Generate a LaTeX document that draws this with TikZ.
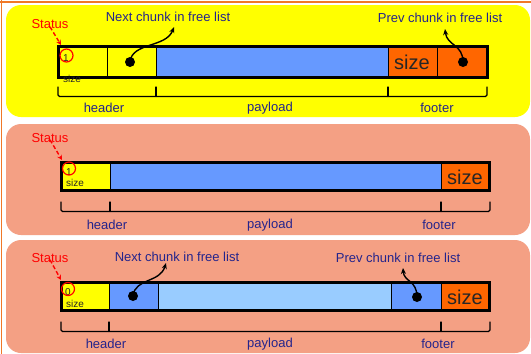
\documentclass[tikz,border=0pt]{standalone}
\usepackage{fontspec}
\setmainfont{Liberation Sans}
\usetikzlibrary{arrows.meta}
\definecolor{panelyellow}{RGB}{255,255,0}
\definecolor{salmon}{RGB}{244,160,132}
\definecolor{blockblue}{RGB}{102,153,255}
\definecolor{lightblue}{RGB}{153,204,255}
\definecolor{footorange}{RGB}{255,102,0}
\definecolor{navy}{RGB}{36,36,140}
\definecolor{frameorange}{RGB}{240,120,40}
\begin{document}
\begin{tikzpicture}[x=1pt,y=-1pt,
  panel/.style={rounded corners=15pt},
  cell/.style={draw=black, line width=0.9pt},
  bar/.style={draw=black, line width=3pt},
  lbl/.style={text=navy, font=\fontsize{13}{15}\selectfont, inner sep=0pt},
  status/.style={text=red, font=\fontsize{13}{15}\selectfont, inner sep=0pt},
  tiny/.style={text=black!85, font=\fontsize{10}{11}\selectfont, inner sep=0pt},
  bigsize/.style={text=black!85, font=\fontsize{20}{22}\selectfont, inner sep=0pt},
  dot/.style={circle, fill=black, minimum size=10pt, inner sep=0pt},
  ring/.style={circle, draw=red, line width=1.2pt, minimum size=13pt, inner sep=0pt},
  ptr/.style={line width=1.4pt, -{Stealth[length=6pt,width=5pt]}},
  statarrow/.style={red, line width=1.4pt, dashed, dash pattern=on 4pt off 2.5pt, -{Stealth[length=5pt,width=5pt]}},
  bracket/.style={line width=1.2pt, line cap=round, rounded corners=1.5pt}
]
\useasboundingbox (0,0) rectangle (531,354);
\fill[white] (0,0) rectangle (531,354);
% outer frame lines
\draw[frameorange, line width=1.5pt] (0,2) -- (531,2);
\draw[frameorange, line width=1.5pt] (1.5,0) -- (1.5,354);

% ---------- panels ----------
\fill[panelyellow, panel] (6,5) rectangle (530,117);
\fill[salmon, panel] (6,124) rectangle (530,235);
\fill[salmon, panel] (6,240) rectangle (530,353);

% ================= block 1: allocated with links =================
\fill[panelyellow] (58.5,46.5) rectangle (156,77);
\fill[blockblue] (156,46.5) rectangle (388,77);
\fill[footorange] (388,46.5) rectangle (487,77);
\draw[cell] (107,46.5) -- (107,77);
\draw[cell] (156,46.5) -- (156,77);
\draw[cell] (388,46.5) -- (388,77);
\draw[cell] (437,46.5) -- (437,77);
\draw[bar] (58.5,46.5) rectangle (487,77);
\node[bigsize] (sz1) at (412,62) {size};
\node[tiny] (b1) at (66,58) {1};
\node[tiny] (hs1) at (72,79) {size};
\node[ring] (r1) at (66.5,55.5) {};
\node[status] (s1) at (50,24) {Status};
\coordinate (s1t) at (61,45);
\draw[statarrow] ([yshift=2pt]s1.south) -- (s1t);
\node[lbl] (nx1) at (168,17) {Next chunk in free list};
\node[lbl] (pv1) at (440,18) {Prev chunk in free list};
\node[dot] (d1) at (130,62) {};
\node[dot] (e1) at (463,62) {};
\coordinate (d1t) at (174,27);
\coordinate (e1t) at (445,29);
\draw[ptr] (d1.center) .. controls (132,42) and (166,48) .. (d1t);
\draw[ptr] (e1.center) .. controls (463,44) and (447,46) .. (e1t);
\draw[bracket] (58,87) -- (58,96.5) -- (487,96.5) -- (487,87);
\draw[bracket] (156,87) -- (156,96.5);
\draw[bracket] (388,87) -- (388,96.5);
\node[lbl] (h1) at (104,108) {header};
\node[lbl] (p1) at (270,108) {payload};
\node[lbl] (f1) at (437,108) {footer};

% ================= block 2: allocated =================
\fill[panelyellow] (61.5,162.5) rectangle (110,190.5);
\fill[blockblue] (110,162.5) rectangle (441,190.5);
\fill[footorange] (441,162.5) rectangle (489.5,190.5);
\draw[cell] (110,162.5) -- (110,190.5);
\draw[cell] (441,162.5) -- (441,190.5);
\draw[bar] (61.5,162.5) rectangle (489.5,190.5);
\node[bigsize] (sz2) at (465,177) {size};
\node[tiny] (b2) at (69,172) {1};
\node[tiny] (hs2) at (75,183) {size};
\node[ring] (r2) at (69,168.5) {};
\node[status] (s2) at (50,138) {Status};
\coordinate (s2t) at (62,160);
\draw[statarrow] ([yshift=3pt]s2.south) -- (s2t);
\draw[bracket] (61,202) -- (61,211.5) -- (490,211.5) -- (490,202);
\draw[bracket] (110,202) -- (110,211.5);
\draw[bracket] (441,202) -- (441,211.5);
\node[lbl] (h2) at (107,225) {header};
\node[lbl] (p2) at (270,225) {payload};
\node[lbl] (f2) at (439,225) {footer};

% ================= block 3: free =================
\fill[panelyellow] (61.5,282.5) rectangle (109,310.5);
\fill[blockblue] (109,282.5) rectangle (158,310.5);
\fill[lightblue] (158,282.5) rectangle (391,310.5);
\fill[blockblue] (391,282.5) rectangle (441,310.5);
\fill[footorange] (441,282.5) rectangle (489.5,310.5);
\draw[cell] (109,282.5) -- (109,310.5);
\draw[cell] (158,282.5) -- (158,310.5);
\draw[cell] (391,282.5) -- (391,310.5);
\draw[cell] (441,282.5) -- (441,310.5);
\draw[bar] (61.5,282.5) rectangle (489.5,310.5);
\node[bigsize] (sz3) at (465,297) {size};
\node[tiny] (b3) at (68,292) {0};
\node[tiny] (hs3) at (75,304) {size};
\node[ring] (r3) at (68,289) {};
\node[status] (s3) at (50,258) {Status};
\coordinate (s3t) at (61,280);
\draw[statarrow] ([yshift=3pt]s3.south) -- (s3t);
\node[lbl] (nx3) at (177,257) {Next chunk in free list};
\node[lbl] (pv3) at (398,258) {Prev chunk in free list};
\node[dot] (d3) at (133,296) {};
\node[dot] (e3) at (417,297) {};
\coordinate (d3t) at (166,263);
\coordinate (e3t) at (403,268);
\draw[ptr] (d3.center) .. controls (135,278) and (160,283) .. (d3t);
\draw[ptr] (e3.center) .. controls (417,280) and (404,282) .. (e3t);
\draw[bracket] (61,322) -- (61,331.5) -- (490,331.5) -- (490,322);
\draw[bracket] (109,322) -- (109,331.5);
\draw[bracket] (441,322) -- (441,331.5);
\node[lbl] (h3) at (106,344) {header};
\node[lbl] (p3) at (270,344) {payload};
\node[lbl] (f3) at (438,344) {footer};
\end{tikzpicture}
\end{document}
